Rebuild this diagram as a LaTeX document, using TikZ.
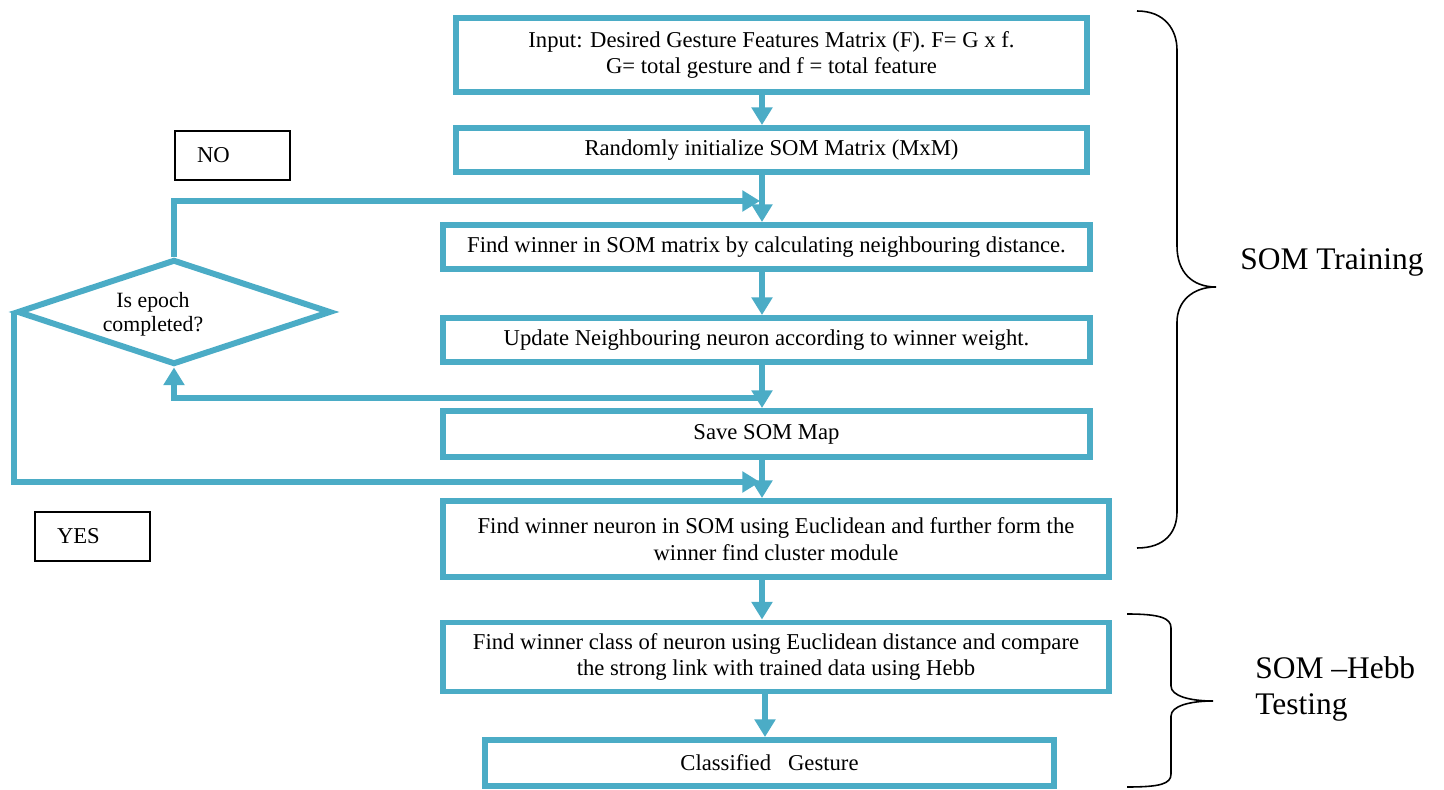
\documentclass[tikz,border=0pt]{standalone}
\usepackage{fontspec}
\setmainfont{Liberation Serif}
\usetikzlibrary{arrows.meta,shapes.geometric}
\definecolor{flowblue}{HTML}{4BACC6}
\begin{document}
\begin{tikzpicture}[x=0.02cm,y=-0.02cm,
  box/.style={draw=flowblue, line width=3.4pt, rectangle, inner sep=2pt, align=center,
    font=\fontsize{12.9}{15.3}\selectfont},
  decision/.style={draw=flowblue, line width=3.4pt, diamond, inner sep=0pt,
    minimum width=6.28cm, minimum height=2.1cm},
  arr/.style={draw=flowblue, line width=3.4pt, -{Triangle[length=10pt,width=11.5pt]}},
  tag/.style={draw=black, line width=0.8pt, rectangle, minimum height=0.98cm,
    text width=1.42cm, inner xsep=0.44cm, align=left, font=\fontsize{12.9}{15}\selectfont},
  dtext/.style={align=center, inner sep=0pt, font=\fontsize{12.4}{13.6}\selectfont},
  brace/.style={draw=black, line width=0.9pt},
  lbl/.style={anchor=west, align=left, inner sep=0pt, font=\fontsize{17.9}{21}\selectfont}]
\useasboundingbox (0,0) rectangle (1444,790);

% boxes
\node[box, minimum width=12.62cm, minimum height=1.48cm] (b1) at (771.5,55)
  {Input: Desired Gesture Features Matrix (F). F= G x f.\\G= total gesture and f = total feature};
\node[box, minimum width=12.62cm, minimum height=0.88cm] (b2) at (771.5,150)
  {Randomly initialize SOM Matrix (MxM)};
\node[box, minimum width=12.94cm, minimum height=0.88cm] (b3) at (766.5,247)
  {Find winner in SOM matrix by calculating neighbouring distance.};
\node[box, minimum width=12.94cm, minimum height=0.88cm] (b4) at (766.5,340)
  {Update Neighbouring neuron according to winner weight.};
\node[box, minimum width=12.94cm, minimum height=0.92cm] (b5) at (766.5,434)
  {Save SOM Map};
\node[box, minimum width=13.32cm, minimum height=1.52cm] (b6) at (776,539)
  {Find winner neuron in SOM using Euclidean and further form the\\winner find cluster module};
\node[box, minimum width=13.32cm, minimum height=1.38cm] (b7) at (776,657)
  {Find winner class of neuron using Euclidean distance and compare\\the strong link with trained data using Hebb};
\node[box, minimum width=11.38cm, minimum height=0.92cm] (b8) at (769.5,763)
  {Classified~~~Gesture};

% decision
\node[decision] (dia) at (174,312) {};
\node[dtext] (diatext) at (153,314) {Is epoch\\completed?};

% NO / YES tags
\node[tag] (no) at (232.5,155.5) {NO};
\node[tag] (yes) at (92.5,536.5) {YES};

% connector helpers
\coordinate (c1) at (762,0);
\coordinate (c2) at (765,0);
\coordinate (noend) at (760,201);
\coordinate (back) at (762,398);
\coordinate (yesend) at (760,482);

% main flow arrows
\draw[arr] (b1.south -| c1) -- (b2.north -| c1);
\draw[arr] (b2.south -| c1) -- (b3.north -| c1);
\draw[arr] (b3.south -| c1) -- (b4.north -| c1);
\draw[arr] (b4.south -| c1) -- (b5.north -| c1);
\draw[arr] (b5.south -| c1) -- (b6.north -| c1);
\draw[arr] (b6.south -| c1) -- (b7.north -| c1);
\draw[arr] (b7.south -| c2) -- (b8.north -| c2);

% loops
\draw[arr] (dia.north) |- (noend);
\draw[arr] (back) -| (dia.south);
\draw[arr] (dia.west) |- (yesend);

% braces
\draw[brace] (1137,11) .. controls (1165,11) and (1177,30) .. (1177,50)
  -- (1177,246) .. controls (1177,272) and (1192,287) .. (1216,287)
  .. controls (1192,287) and (1177,302) .. (1177,322)
  -- (1177,512) .. controls (1177,532) and (1165,548) .. (1137,548);
\draw[brace] (1127,614) .. controls (1160,614) and (1171,618) .. (1171,628)
  -- (1171,686) .. controls (1171,696) and (1190,701) .. (1213,701)
  .. controls (1190,701) and (1171,706) .. (1171,716)
  -- (1171,774) .. controls (1171,784) and (1160,787) .. (1127,787);

% labels
\node[lbl] (train) at (1240,262) {SOM Training};
\node[lbl] (test) at (1255,689) {SOM –Hebb\\Testing};
\end{tikzpicture}
\end{document}
